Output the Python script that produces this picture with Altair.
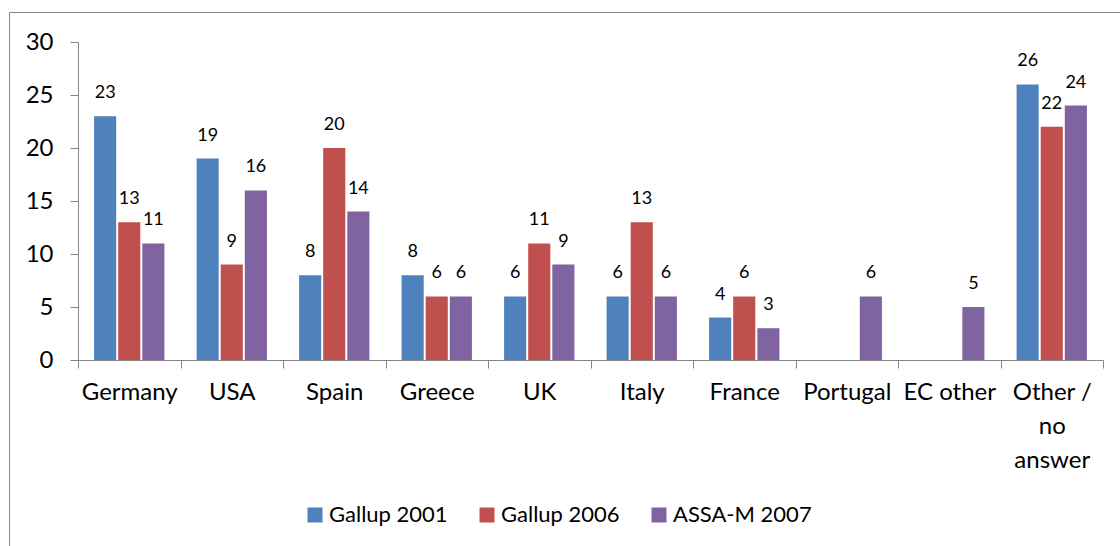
import altair as alt
import pandas as pd

# Survey answers (%) per destination country and survey
categories = ["Germany", "USA", "Spain", "Greece", "UK", "Italy", "France",
              "Portugal", "EC other", "Other / no answer"]
series = ["Gallup 2001", "Gallup 2006", "ASSA-M 2007"]
gallup_2001 = [23, 19, 8, 8, 6, 6, 4, None, None, 26]
gallup_2006 = [13, 9, 20, 6, 11, 13, 6, None, None, 22]
assa_m_2007 = [11, 16, 14, 6, 9, 6, 3, 6, 5, 24]
y_ticks = [0, 5, 10, 15, 20, 25, 30]
colors = ["#4F81BD", "#C0504D", "#8064A2"]

rows = []
for name, vals in zip(series, [gallup_2001, gallup_2006, assa_m_2007]):
    for cat, v in zip(categories, vals):
        if v is not None:
            rows.append({"category": cat, "series": name, "value": v})
df = pd.DataFrame(rows)

FONT = "Lato"
GREY = "#868686"
W, H = 1025, 318

x_enc = alt.X(
    "category:N", sort=categories,
    scale=alt.Scale(paddingInner=0, paddingOuter=0),
    axis=alt.Axis(
        title=None, labelAngle=0, tickBand="extent", tickSize=8,
        labelPadding=12, labelFontSize=24, labelLineHeight=34,
        labelExpr="datum.value == 'Other / no answer' ? ['Other /', 'no', 'answer'] : datum.label",
        domainColor=GREY, tickColor=GREY, labelColor="black", labelFont=FONT,
    ),
)
xoff_enc = alt.XOffset(
    "series:N", sort=series,
    scale=alt.Scale(paddingInner=0.083, paddingOuter=0.667),
)
y_enc = alt.Y(
    "value:Q",
    scale=alt.Scale(domain=[0, 30], nice=False),
    axis=alt.Axis(
        title=None, values=y_ticks, grid=False, tickSize=8, labelPadding=17,
        labelFontSize=24, domainColor=GREY, tickColor=GREY,
        labelColor="black", labelFont=FONT,
    ),
)
color_enc = alt.Color(
    "series:N", sort=series,
    scale=alt.Scale(domain=series, range=colors),
    legend=alt.Legend(
        title=None, orient="none", legendX=226, legendY=462,
        direction="horizontal", symbolType="square", symbolSize=225,
        symbolStrokeWidth=0, labelFontSize=22, labelFont=FONT,
        labelColor="black", columnPadding=28, labelOffset=3, padding=0,
    ),
)

bars = alt.Chart(df).mark_bar().encode(
    x=x_enc, xOffset=xoff_enc, y=y_enc, color=color_enc
)

labels = alt.Chart(df).mark_text(
    baseline="alphabetic", dy=-18, fontSize=18, font=FONT, color="black"
).encode(
    x=alt.X("category:N", sort=categories),
    xOffset=alt.XOffset("series:N", sort=series),
    y="value:Q",
    text="value:Q",
)

# thin outer frame around the chart
frame = alt.Chart(pd.DataFrame({"k": [0]})).mark_rect(
    fillOpacity=0, stroke=GREY, strokeWidth=1
).encode(
    x=alt.value(-68.5), x2=alt.value(1400),
    y=alt.value(-29.5), y2=alt.value(800),
)

chart = alt.layer(bars, labels, frame).properties(
    width=W, height=H,
    padding={"left": 78, "top": 42, "right": 17, "bottom": 186},
    autosize=alt.AutoSizeParams(type="none"),
).configure_view(stroke=None)

chart.save("out.html", embed_options={"renderer": "svg", "actions": False})
